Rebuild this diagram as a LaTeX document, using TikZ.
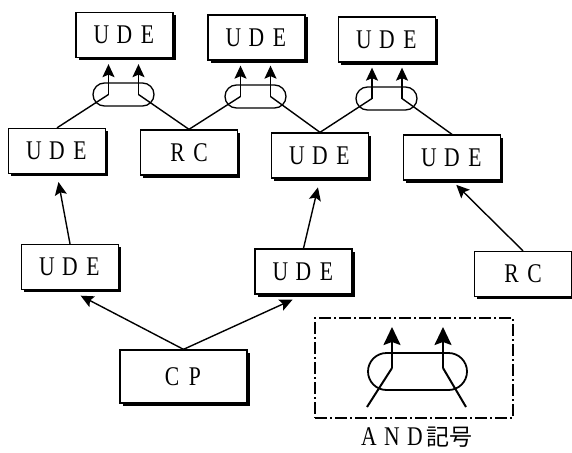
\documentclass[tikz,border=0pt]{standalone}
\usepackage{fontspec}
\setmainfont{Liberation Serif}
\newfontfamily\cjk{Noto Sans CJK JP}
\usetikzlibrary{arrows.meta,shadows,calc}
\newcommand{\ltr}[1]{\makebox[23pt]{\scalebox{0.8}[1]{#1}}}
\begin{document}
\begin{tikzpicture}[x=1pt,y=-1pt,
  ubox/.style={draw, line width=1.3pt, fill=white, minimum width=97pt, minimum height=45pt, inner sep=0pt,
    font=\fontsize{27}{27}\selectfont,
    drop shadow={shadow xshift=2.5pt, shadow yshift=-2.5pt, opacity=1, fill=black}},
  andoval/.style={draw, line width=1.3pt, minimum width=61pt, minimum height=23pt, inner sep=0pt, rounded corners=11.5pt},
  bigoval/.style={draw, line width=1.8pt, minimum width=99pt, minimum height=37pt, inner sep=0pt, rounded corners=18.5pt},
  ln/.style={line width=1.4pt},
  arr/.style={line width=1.4pt, -{Stealth[length=13pt,width=12pt,inset=2.5pt]}},
  bigarr/.style={line width=2pt, -{Stealth[length=18pt,width=17pt,inset=3pt]}},
  legendbox/.style={draw, line width=1.1pt, dash pattern=on 12pt off 3pt on 2pt off 3pt, minimum width=198pt, minimum height=100pt, inner sep=0pt}
]
\useasboundingbox (0,0) rectangle (572,452);

% top row
\node[ubox] (t1) at (124.5,35) {\ltr{U}\ltr{D}\ltr{E}};
\node[ubox] (t2) at (256.5,37.5) {\ltr{U}\ltr{D}\ltr{E}};
\node[ubox] (t3) at (387,39.5) {\ltr{U}\ltr{D}\ltr{E}};
% middle row
\node[ubox] (m1) at (57,151) {\ltr{U}\ltr{D}\ltr{E}};
\node[ubox] (rc1) at (189,152.5) {\ltr{R}\ltr{C}};
\node[ubox] (m2) at (320,155.5) {\ltr{U}\ltr{D}\ltr{E}};
\node[ubox] (m3) at (452,157.5) {\ltr{U}\ltr{D}\ltr{E}};
% lower row
\node[ubox] (l1) at (70,267) {\ltr{U}\ltr{D}\ltr{E}};
\node[ubox] (l2) at (303.5,271.5) {\ltr{U}\ltr{D}\ltr{E}};
\node[ubox] (rc2) at (523,274) {\ltr{R}\ltr{C}};
\node[ubox, minimum width=127pt, minimum height=53pt] (cp) at (183.5,376.5) {\ltr{C}\ltr{P}};

% AND ovals
\node[andoval] (o1) at (123.5,94.5) {};
\node[andoval] (o2) at (255.5,96.5) {};
\node[andoval] (o3) at (386.5,98.5) {};
\coordinate (k1a) at (108.5,94.5);
\coordinate (k1b) at (138.5,94.5);
\coordinate (k2a) at (240.5,96.5);
\coordinate (k2b) at (270.5,96.5);
\coordinate (k3a) at (372,98.5);
\coordinate (k3b) at (402,98.5);

\draw[arr, shorten >=6pt] (k1a) -- (k1a |- t1.south);
\draw[arr, shorten >=6pt] (k1b) -- (k1b |- t1.south);
\draw[arr, shorten >=5pt] (k2a) -- (k2a |- t2.south);
\draw[arr, shorten >=5pt] (k2b) -- (k2b |- t2.south);
\draw[arr, shorten >=5pt] (k3a) -- (k3a |- t3.south);
\draw[arr, shorten >=5pt] (k3b) -- (k3b |- t3.south);

\draw[ln] (k1a) -- (m1.north);
\draw[ln] (k1b) -- (rc1.north);
\draw[ln] (k2a) -- (rc1.north);
\draw[ln] (k2b) -- (m2.north);
\draw[ln] (k3a) -- (m2.north);
\draw[ln] (k3b) -- (m3.north);

% lower arrows
\draw[arr, shorten >=8pt] (l1.north) -- (m1.south);
\draw[arr, shorten >=9pt] (l2.north) -- (m2.south);
\draw[arr, shorten >=6pt] (rc2.north) -- (m3.south);
\draw[arr, shorten >=12pt] (cp.north) -- (l1.south);
\draw[arr, shorten >=12pt] (cp.north) -- (l2.south);

% legend
\node[legendbox] (lg) at (414,368) {};
\node[bigoval] (lo) at (417.5,371.5) {};
\coordinate (lka) at (392,368);
\coordinate (lkb) at (443,368);
\coordinate (lta) at (392,327);
\coordinate (ltb) at (443,327);
\coordinate (lfa) at (367,407);
\coordinate (lfb) at (466,407);
\draw[bigarr] (lka) -- (lta);
\draw[bigarr] (lkb) -- (ltb);
\draw[line width=2pt] (lka) -- (lfa);
\draw[line width=2pt] (lkb) -- (lfb);
\node[font=\fontsize{27}{27}\selectfont, inner sep=0pt] (lbl) at (415,437) {\ltr{A}\ltr{N}\ltr{D}{\cjk\fontsize{23}{23}\selectfont 記号}};
\end{tikzpicture}
\end{document}
